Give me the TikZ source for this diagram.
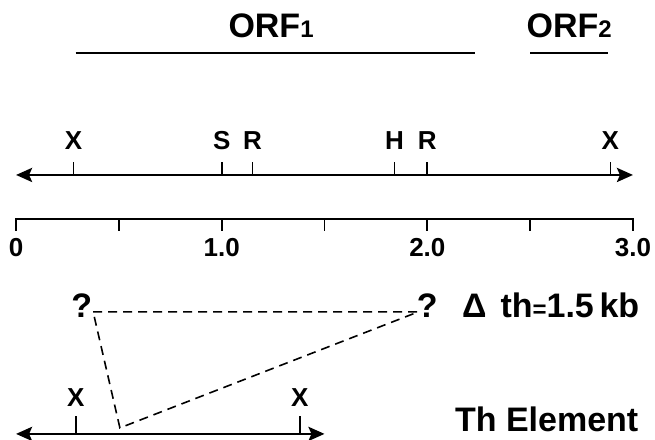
\documentclass[tikz,border=0pt]{standalone}
\usepackage{fontspec}
\setmainfont{Liberation Sans}
\usetikzlibrary{arrows.meta}

\begin{document}
\begin{tikzpicture}[x=205.7pt,y=-1pt,>={Stealth[length=16pt,width=14pt,inset=3pt]},
  lbl/.style={anchor=base,inner sep=0pt,font=\fontsize{26}{26}\selectfont\bfseries},
  big/.style={anchor=base,inner sep=0pt,font=\fontsize{34}{34}\selectfont\bfseries},
  tick/.style={line width=1.7pt}]
\useasboundingbox (-0.078,0) rectangle (3.107,440);
% open reading frames
\coordinate (o1a) at (0.29,53); \coordinate (o1b) at (2.23,53);
\coordinate (o2a) at (2.5,53); \coordinate (o2b) at (2.88,53);
\draw[line width=2.4pt] (o1a) -- (o1b) (o2a) -- (o2b);
\node[big] (orf1) at (1.24,38) {ORF{\fontsize{24}{24}\selectfont 1}};
\node[big] (orf2) at (2.69,38) {ORF{\fontsize{24}{24}\selectfont 2}};
% restriction map
\coordinate (mL) at (0,175); \coordinate (mR) at (3.0,175);
\draw[<->,line width=2.8pt] (mL) -- (mR);
\foreach \p/\s [count=\i] in {0.28/X,1.0/S,1.15/R,1.84/H,2.0/R,2.89/X}{
  \draw[tick] (\p,175) -- (\p,162);
  \node[lbl] (site\i) at (\p,150) {\s};
}
% scale in kb
\coordinate (s0) at (0,219); \coordinate (s3) at (3,219);
\draw[tick] (s0) -- (s3);
\foreach \k in {0,0.5,...,3} \draw[tick] (\k,218.2) -- (\k,231);
\foreach \k/\t in {0/0,1/1.0,2/2.0,3/3.0} \node[lbl] (kb\k) at (\k,257) {\t};
% deletion
\coordinate (qa) at (0.375,312); \coordinate (qb) at (1.955,312); \coordinate (qc) at (0.505,428);
\draw[line width=1.6pt,dash pattern=on 9pt off 6pt] (qa) -- (qb) -- (qc) -- cycle;
\node[big] (qL) at (0.32,318) {?};
\node[big] (qR) at (2.0,318) {?};
\node[big,anchor=base west] (dth) at (2.168,318) {Δ\hspace{14pt}th{\fontsize{24}{24}\selectfont=}1.5\,kb};
% Th element
\coordinate (tL) at (0,434); \coordinate (tR) at (1.5,434);
\draw[<->,line width=2.8pt] (tL) -- (tR);
\foreach \p/\i in {0.29/1,1.38/2}{
  \draw[tick] (\p,434) -- (\p,416);
  \node[lbl] (tx\i) at (\p,407) {X};
}
\node[big,anchor=base west] (th) at (2.134,432) {Th Element};
\end{tikzpicture}
\end{document}
